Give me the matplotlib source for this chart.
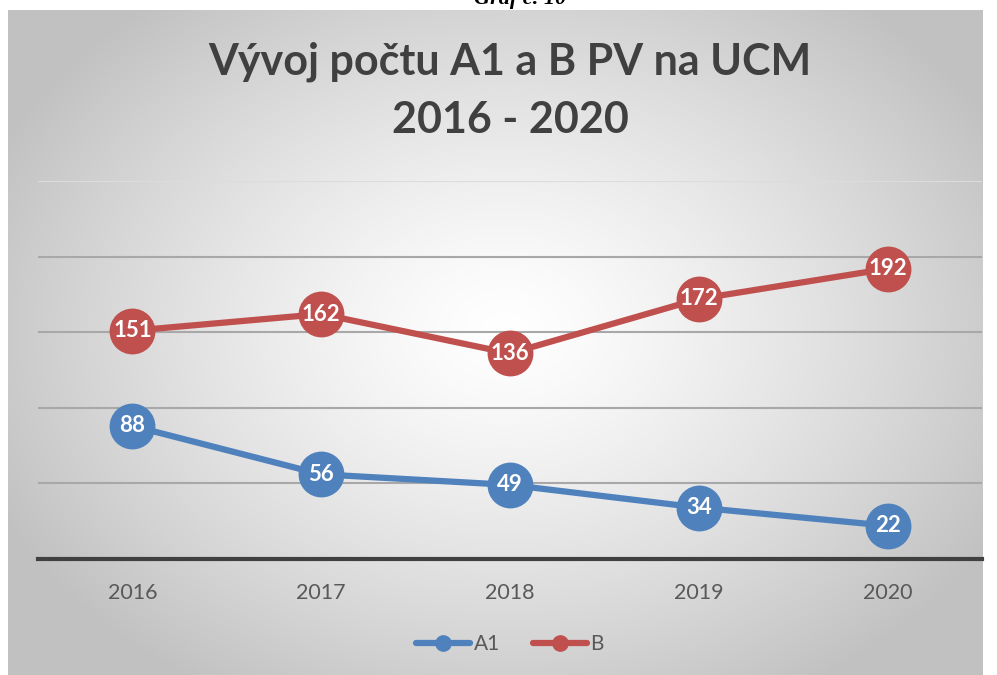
import numpy as np
import matplotlib
matplotlib.use("Agg")
import matplotlib.pyplot as plt
from matplotlib.lines import Line2D

years = ["2016", "2017", "2018", "2019", "2020"]
a1 = [88, 56, 49, 34, 22]
b = [151, 162, 136, 172, 192]
grid_vals = [50, 100, 150, 200, 250]

W, H = 997, 675
fig = plt.figure(figsize=(W / 100, H / 100), dpi=100)
fig.patch.set_facecolor("white")

def fx(px):
    return px / W

def fy(py):
    return 1 - py / H

# background radial gradient panel
bx0, bx1, by0, by1 = 8, 983, 10, 675
bg = fig.add_axes([fx(bx0), fy(by1), fx(bx1 - bx0), (by1 - by0) / H], zorder=0)
nx, ny = 400, 300
xs = np.linspace(bx0, bx1, nx)
ys = np.linspace(by0, by1, ny)
X, Y = np.meshgrid(xs, ys)
cx, cy = 505, 330
d = np.sqrt(((X - cx) / 560) ** 2 + ((Y - cy) / 420) ** 2)
d = np.clip(d, 0, 1)
val = 1.0 - 0.24 * d ** 1.3
img = np.dstack([val, val, val])
bg.imshow(img, aspect="auto", extent=[0, 1, 0, 1], origin="upper", interpolation="bilinear")
bg.set_axis_off()

# Partially cut-off caption at top (as in the reference)
fig.text(fx(520), fy(4), "Graf č. 10", ha="center", va="baseline",
         family="Liberation Serif", style="italic", weight="bold", fontsize=16, color="black", zorder=5)

# Title
fig.text(fx(510), fy(62), "Vývoj počtu A1 a B PV na UCM", ha="center", va="center",
         family="Lato", weight="bold", fontsize=31, color="#404040", zorder=5)
fig.text(fx(510), fy(120), "2016 - 2020", ha="center", va="center",
         family="Lato", weight="bold", fontsize=31, color="#404040", zorder=5)

# Main axes
ax = fig.add_axes([fx(38), fy(559), fx(982 - 38), (559 - 181) / H], zorder=2)
ax.set_facecolor("none")
x = np.arange(len(years))
ax.set_xlim(-0.5, len(years) - 0.5)
ax.set_ylim(0, 250)

for g in grid_vals:
    c = "#dcdcdc" if g == 250 else "#a8a8a8"
    ax.axhline(g, color=c, lw=1.5, zorder=1)

ax.plot(x, a1, color="#4F81BD", lw=4.5, marker="o", ms=32, mfc="#4F81BD", mec="#4F81BD",
        zorder=3, clip_on=False, solid_capstyle="round")
ax.plot(x, b, color="#C0504D", lw=4.5, marker="o", ms=32, mfc="#C0504D", mec="#C0504D",
        zorder=3, clip_on=False, solid_capstyle="round")

for xi, v in zip(x, a1):
    ax.text(xi, v, str(v), ha="center", va="center", color="white", fontsize=16,
            family="Lato", weight="bold", zorder=4)
for xi, v in zip(x, b):
    ax.text(xi, v, str(v), ha="center", va="center", color="white", fontsize=16,
            family="Lato", weight="bold", zorder=4)

for s in ["top", "right", "left"]:
    ax.spines[s].set_visible(False)
ax.spines["bottom"].set_color("#404040")
ax.spines["bottom"].set_linewidth(3)
ax.set_yticks([])
ax.set_xticks(x)
ax.set_xticklabels(years, family="Lato", fontsize=15.5, color="#595959")
ax.tick_params(axis="x", length=0, pad=17)

handles = [
    Line2D([0], [0], color="#4F81BD", lw=4.5, marker="o", ms=11, solid_capstyle="round"),
    Line2D([0], [0], color="#C0504D", lw=4.5, marker="o", ms=11, solid_capstyle="round"),
]
leg = fig.legend(handles, ["A1", "B"], loc="center", bbox_to_anchor=(fx(510), fy(644)),
                 ncol=2, frameon=False, handlelength=2.6, handletextpad=0.15, columnspacing=1.6,
                 prop={"family": "Lato", "size": 15})
for t in leg.get_texts():
    t.set_color("#595959")

fig.savefig("out.png", dpi=100)
